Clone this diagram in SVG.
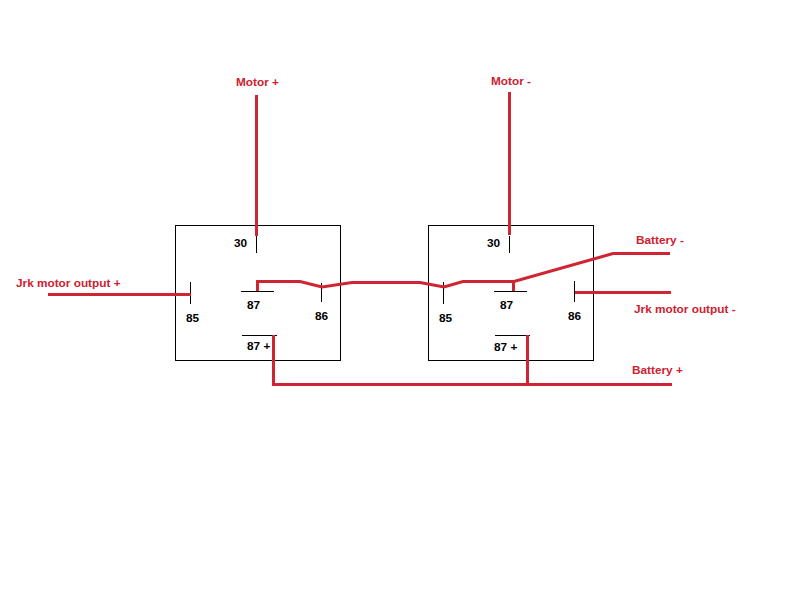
<svg xmlns="http://www.w3.org/2000/svg" width="800" height="600" viewBox="0 0 800 600">
<style>
text{font-family:"Liberation Sans",Arial,sans-serif;font-weight:700;font-size:11.8px}
.k{fill:#000}
.r{fill:#cf2030}
.b{fill:none;stroke:#000;stroke-width:1}
.w{fill:none;stroke:#cf2432;stroke-width:3}
</style>
<rect width="800" height="600" fill="#fff"/>
<g id="relay1">
<rect class="b" x="175.500" y="225.500" width="165" height="135"/>
<path class="b" d="M256.500 236V253M190.500 282V304M241 291.500H274M321.500 283V302M242 335.500H277"/>
<text class="k" x="234" y="247">30</text>
<text class="k" x="186" y="322">85</text>
<text class="k" x="247" y="309">87</text>
<text class="k" x="315" y="320">86</text>
<text class="k" x="247" y="350">87 +</text>
</g>
<g id="relay2">
<rect class="b" x="428.500" y="225.500" width="165" height="135"/>
<path class="b" d="M509.500 236V253M443.500 282V304M494 291.500H527M574.500 281V302M495 335.500H530"/>
<text class="k" x="487" y="247">30</text>
<text class="k" x="439" y="322">85</text>
<text class="k" x="500" y="309">87</text>
<text class="k" x="568" y="320">86</text>
<text class="k" x="494" y="351">87 +</text>
</g>
<g id="connectors">
<path class="w" d="M256.500 95V236"/>
<path class="w" d="M509.500 92V235"/>
<path class="w" d="M48 294.500H191"/>
<path class="w" d="M257.500 291V281.500H300L322 287L352 282.500H420L444 287L463 281.500H514L613 253.500H670"/>
<path class="w" d="M513.500 291V281"/>
<path class="w" d="M575 292.500H671"/>
<path class="w" d="M273.500 335V384.500H672"/>
<path class="w" d="M527.500 335V384.500"/>
</g>
<g id="labels">
<text class="r" x="236" y="86">Motor +</text>
<text class="r" x="491" y="85">Motor -</text>
<text class="r" x="16" y="287">Jrk motor output +</text>
<text class="r" x="636" y="244">Battery -</text>
<text class="r" x="634" y="313">Jrk motor output -</text>
<text class="r" x="632" y="374">Battery +</text>
</g>
</svg>
